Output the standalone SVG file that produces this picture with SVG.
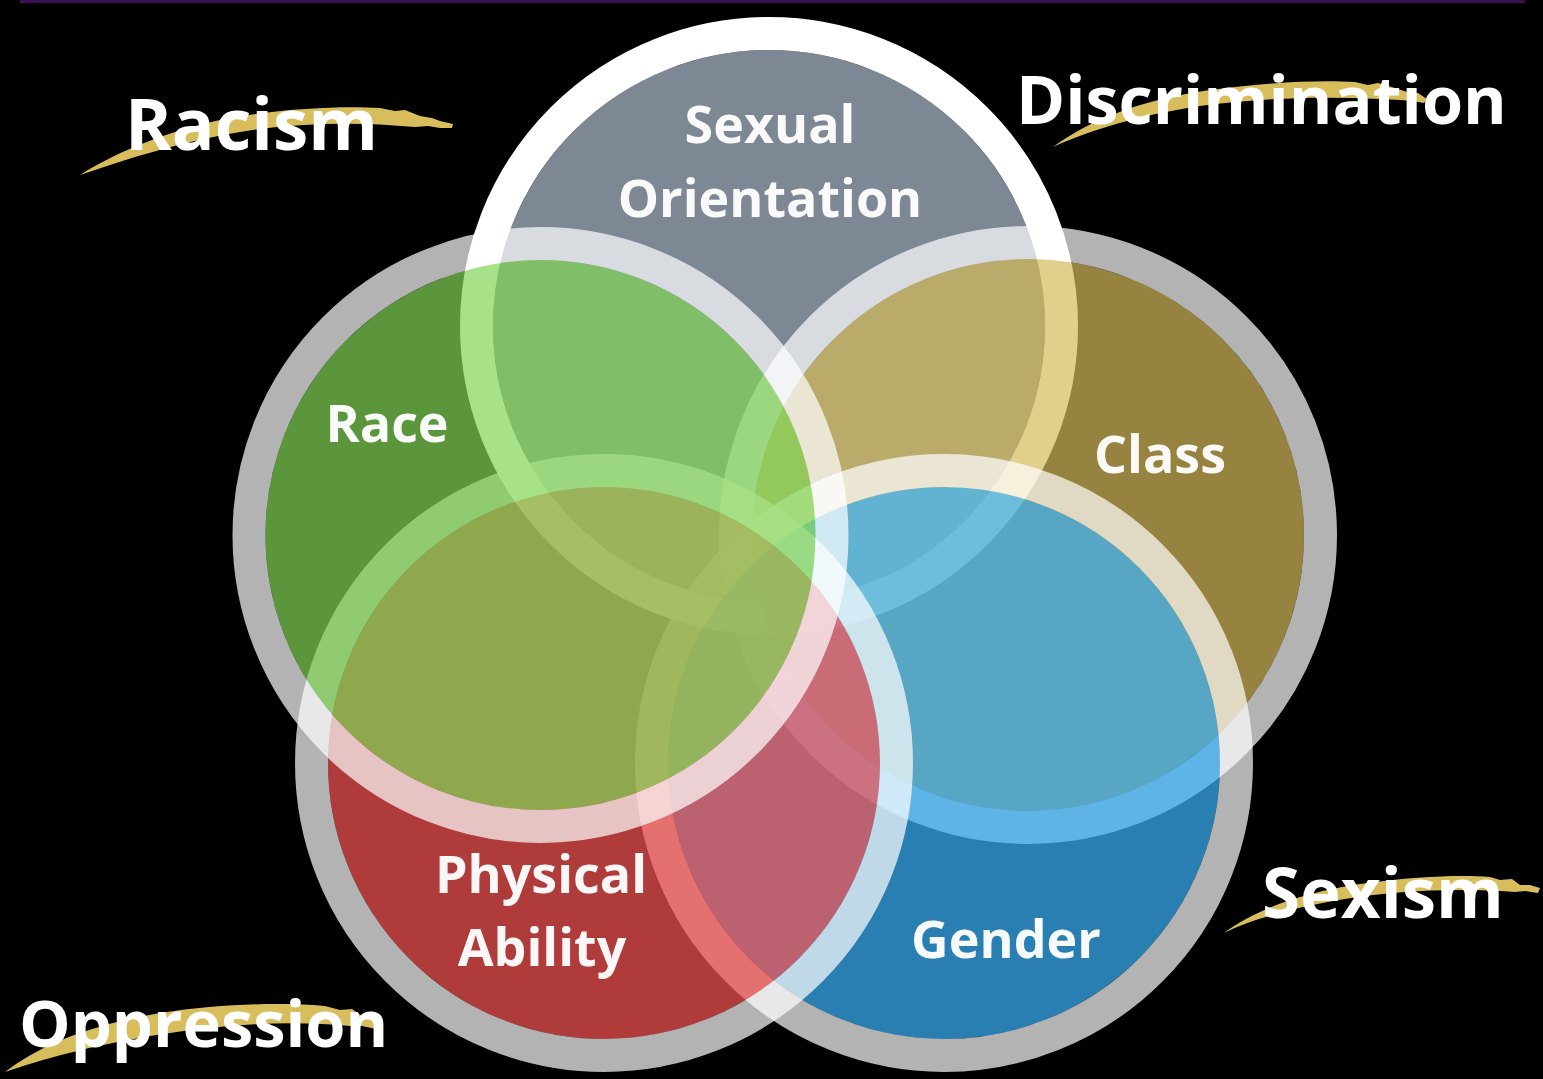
<svg xmlns="http://www.w3.org/2000/svg" width="1543" height="1079" viewBox="0 0 1543 1079">
  <style>
    .fill { fill-opacity: 0.7; stroke: none; }
    .ring { fill: none; stroke: #ffffff; stroke-width: 33; stroke-opacity: 0.7; }
    .lbl { font-family: "Open Sans", "Noto Sans", "Liberation Sans", sans-serif; font-weight: 700; fill: #ffffff; fill-opacity: 0.96; text-anchor: middle; font-size: 52px; }
    .big { font-family: "Open Sans", "Noto Sans", "Liberation Sans", sans-serif; font-weight: 700; fill: #ffffff; }
    .swoosh { fill: #d8bd5d; }
  </style>
  <rect x="0" y="0" width="1543" height="1079" fill="#000000"/>
  <rect x="20" y="0" width="1505" height="3" fill="#3a1152"/>

  <g id="node-sexual-orientation">
    <circle cx="769" cy="326" r="276" fill="#7e8895"/>
    <circle cx="769" cy="326" r="292.5" fill="none" stroke="#ffffff" stroke-width="33"/>
  </g>
  <g id="node-class">
    <circle class="fill" cx="1028" cy="535" r="276" fill="#d5ba5a"/>
    <circle class="ring" cx="1028" cy="535" r="292.5"/>
  </g>
  <g id="node-gender">
    <circle class="fill" cx="944" cy="763" r="276" fill="#3cb5fe"/>
    <circle class="ring" cx="944" cy="763" r="292.5"/>
  </g>
  <g id="node-physical-ability">
    <circle class="fill" cx="604" cy="763" r="276" fill="#fb5454"/>
    <circle class="ring" cx="604" cy="763" r="292.5"/>
  </g>
  <g id="node-race">
    <circle class="fill" cx="540.5" cy="535" r="275" fill="#81d656"/>
    <circle class="ring" cx="540.5" cy="535" r="291.5"/>
  </g>

  <g id="labels">
    <text class="lbl" x="770" y="143">Sexual</text>
    <text class="lbl" x="770" y="217">Orientation</text>
    <text class="lbl" x="387" y="442">Race</text>
    <text class="lbl" x="1160" y="473">Class</text>
    <text class="lbl" x="541" y="893">Physical</text>
    <text class="lbl" x="542" y="966">Ability</text>
    <text class="lbl" x="1006" y="958">Gender</text>
  </g>

  <g id="node-racism">
    <path class="swoosh" d="M80,175 C120,150 170,130 230,118 C290,108 340,106 380,108 L395,111 L405,110 L420,116 L432,118 L440,121 L453,124 L452,128 L440,128 L428,126 L415,127 C360,122 300,122 240,132 C180,142 130,158 80,175 Z"/>
    <text class="big" x="125" y="150" font-size="71">Racism</text>
  </g>
  <g id="node-discrimination">
    <path class="swoosh" d="M1053,147 C1090,120 1140,100 1210,90 C1270,82 1320,80 1355,82 L1368,85 L1378,83 L1395,88 L1410,93 L1418,93 L1427,99 L1424,103 L1412,101 L1400,100 L1380,99 C1320,96 1260,98 1200,106 C1140,115 1090,130 1053,147 Z"/>
    <text class="big" x="1016" y="124" font-size="66.5">Discrimination</text>
  </g>
  <g id="node-sexism">
    <path class="swoosh" d="M1224,933 C1255,910 1300,893 1360,884 C1420,876 1460,875 1490,877 L1500,880 L1512,879 L1520,885 L1530,885 L1540,888 L1538,893 L1525,891 L1515,892 C1460,888 1400,890 1345,899 C1290,908 1250,920 1224,933 Z"/>
    <text class="big" x="1262" y="918" font-size="69">Sexism</text>
  </g>
  <g id="node-oppression">
    <path class="swoosh" d="M5,1072 C40,1045 90,1025 160,1013 C220,1004 280,1002 325,1006 L340,1010 L352,1009 L362,1016 L370,1018 L378,1024 L376,1029 L362,1026 L350,1026 C290,1020 220,1024 150,1036 C90,1046 40,1060 5,1072 Z"/>
    <text class="big" x="19" y="1047" font-size="65">Oppression</text>
  </g>
  <g id="connectors"/>
</svg>
